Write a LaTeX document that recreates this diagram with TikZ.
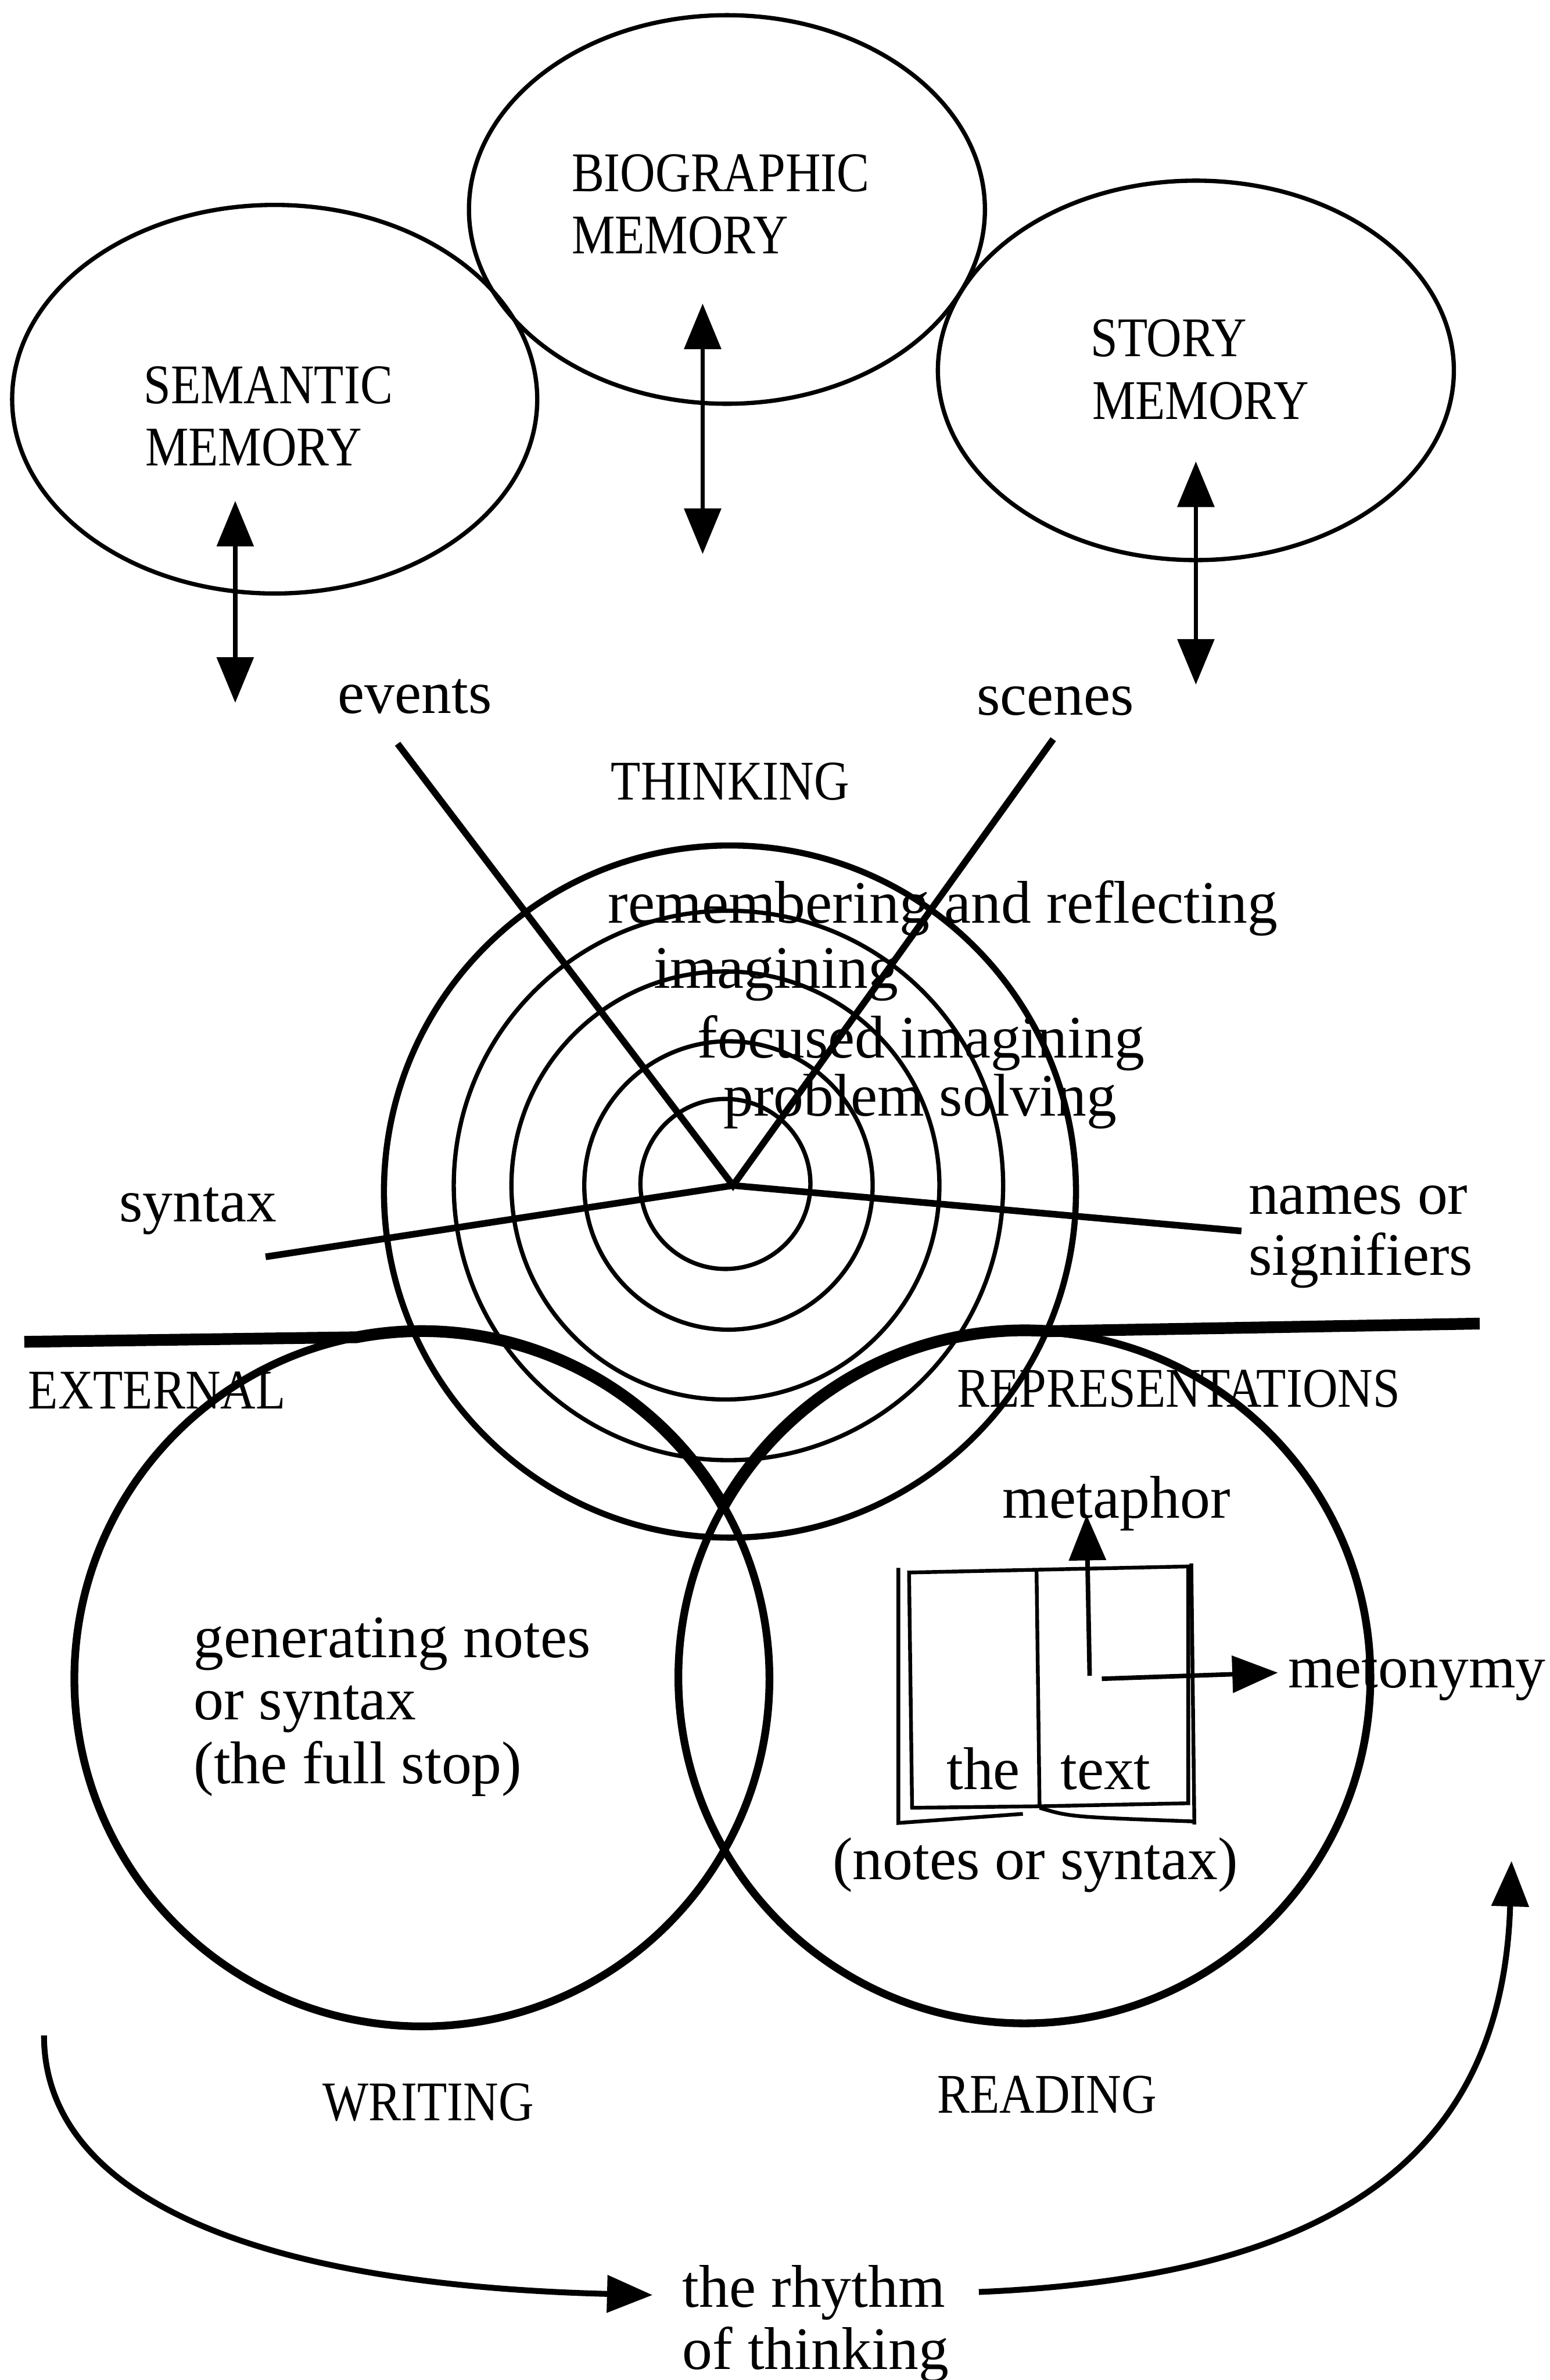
\documentclass[tikz,border=0pt]{standalone}
\usepackage{fontspec}
\setmainfont{Liberation Serif}
\usepackage{graphicx}
\usetikzlibrary{arrows.meta,shapes.geometric}

% condensed capitals for the region labels
\newcommand{\narrowcaps}[1]{\scalebox{0.87}[1]{#1}}

\begin{document}
\begin{tikzpicture}[x=0.1mm,y=0.1mm,
  >={Triangle[length=3mm,width=2.4mm]},
  lbl/.style={inner sep=0pt, anchor=base west, font=\fontsize{11.3pt}{12pt}\selectfont},
  caps/.style={inner sep=0pt, anchor=base west, font=\fontsize{10.5pt}{12pt}\selectfont},
  memory/.style={draw, ellipse, line width=0.8pt, inner sep=0pt},
  shaft/.style={line width=0.8pt},
  ring/.style={line width=0.8pt},
  outerring/.style={line width=1.15pt},
  spoke/.style={line width=1.25pt},
  wheel/.style={line width=1.45pt},
  band/.style={line width=2.2pt},
  book/.style={line width=0.7pt},
  bookarrow/.style={line width=0.85pt},
  rhythm/.style={line width=1.1pt}
]
\useasboundingbox (0,0) rectangle (1021,-1568);

% ---- the three memory stores ----
\node[memory, minimum width=34.6mm, minimum height=25.6mm] (semantic) at (181,-263) {};
\node[memory, minimum width=34.0mm, minimum height=25.6mm] (biographic) at (479,-138) {};
\node[memory, minimum width=34.0mm, minimum height=25.0mm] (story) at (788,-244) {};

\node[caps] (bioA) at (376,-126) {\narrowcaps{BIOGRAPHIC}};
\node[caps] (bioB) at (376,-167) {\narrowcaps{MEMORY}};
\node[caps] (semA) at (94,-266) {\narrowcaps{SEMANTIC}};
\node[caps] (semB) at (95,-307) {\narrowcaps{MEMORY}};
\node[caps] (stoA) at (718,-235) {\narrowcaps{STORY}};
\node[caps] (stoB) at (719,-276) {\narrowcaps{MEMORY}};

% two-way links out of each store
\coordinate (semUp) at (155,-330);
\coordinate (semDn) at (155,-463);
\coordinate (bioUp) at (463,-200);
\coordinate (bioDn) at (463,-365);
\coordinate (stoUp) at (788,-304);
\coordinate (stoDn) at (788,-451);
\draw[shaft,<->] (semUp) -- (semDn);
\draw[shaft,<->] (bioUp) -- (bioDn);
\draw[shaft,<->] (stoUp) -- (stoDn);

% ---- thinking: concentric rings ----
\draw[ring] (478,-780) circle[radius=56];
\draw[ring] (480,-781) circle[radius=95];
\draw[ring] (478,-781) circle[radius=141];
\draw[ring] (480,-781) circle[radius=181];
\draw[outerring] (481,-785) circle[radius=228];

\node[lbl] (events) at (222,-470) {events};
\node[lbl] (scenes) at (643,-471) {scenes};
\node[caps] (thinking) at (402,-527) {\narrowcaps{THINKING}};
\node[lbl] (remember) at (400,-608) {remembering and reflecting};
\node[lbl] (imagine) at (430,-651) {imagining};
\node[lbl] (focused) at (459,-697) {focused imagining};
\node[lbl] (problem) at (476,-735) {problem solving};
\node[lbl] (syntax) at (78,-805) {syntax};
\node[lbl] (namesA) at (822,-800) {names or};
\node[lbl] (namesB) at (822,-840) {signifiers};

% spokes meeting at the centre
\coordinate (hub) at (483,-781);
\coordinate (eventsEnd) at (262,-490);
\coordinate (scenesEnd) at (694,-487);
\coordinate (syntaxEnd) at (175,-828);
\coordinate (namesEnd) at (818,-811);
\draw[spoke] (eventsEnd) -- (hub) -- (scenesEnd);
\draw[spoke] (syntaxEnd) -- (hub) -- (namesEnd);

% ---- external representations: writing and reading ----
\draw[wheel] (278,-1106) circle[radius=229];
\draw[wheel] (675,-1105) circle[radius=228];
\draw[band] (16,-884) -- (235,-881) arc[start angle=100.8, end angle=29.8, radius=229];
\draw[band] (975,-872) -- (691,-877) arc[start angle=86, end angle=150.3, radius=228];

\node[caps] (external) at (18,-928) {\narrowcaps{EXTERNAL}};
\node[caps] (repres) at (630,-927) {\narrowcaps{REPRESENTATIONS}};

\node[lbl] (genA) at (127,-1092) {generating notes};
\node[lbl] (genB) at (127,-1133) {or syntax};
\node[lbl] (genC) at (127,-1175) {(the full stop)};

% the open book
\draw[book] (592,-1033) -- (592,-1201) -- (674,-1195);
\draw[book] (599,-1036) -- (783,-1032) -- (783,-1188) -- (685,-1190) -- (601,-1191) -- cycle;
\draw[book] (683,-1034) -- (685,-1190);
\draw[book] (785,-1030) -- (787,-1202);
\draw[book] (685,-1191) .. controls (705,-1197) .. (787,-1200);

\node[lbl] (bookL) at (623,-1179) {the};
\node[lbl] (bookR) at (698,-1179) {text};
\node[lbl] (notes) at (548,-1238) {(notes or syntax)};
\node[lbl] (metaphor) at (660,-1000) {metaphor};
\node[lbl] (metonymy) at (848,-1112) {metonymy};

\coordinate (bend) at (718,-1104);
\coordinate (metaTip) at (716,-998);
\coordinate (metoStart) at (726,-1106);
\coordinate (metoTip) at (842,-1102);
\draw[bookarrow,->] (bend) -- (metaTip);
\draw[bookarrow,->] (metoStart) -- (metoTip);

\node[caps] (writing) at (212,-1397) {\narrowcaps{WRITING}};
\node[caps] (reading) at (617,-1392) {\narrowcaps{READING}};

% the rhythm of thinking
\node[lbl] (rhythmA) at (449,-1520) {the rhythm};
\node[lbl] (rhythmB) at (449,-1561) {of thinking};
\coordinate (loopStart) at (29,-1341);
\coordinate (loopIn) at (430,-1512);
\coordinate (loopOut) at (645,-1510);
\coordinate (loopEnd) at (996,-1226);
\draw[rhythm,->] (loopStart) .. controls (29,-1440) and (150,-1505) .. (loopIn);
\draw[rhythm,->] (loopOut) .. controls (880,-1500) and (990,-1420) .. (loopEnd);
\end{tikzpicture}
\end{document}
